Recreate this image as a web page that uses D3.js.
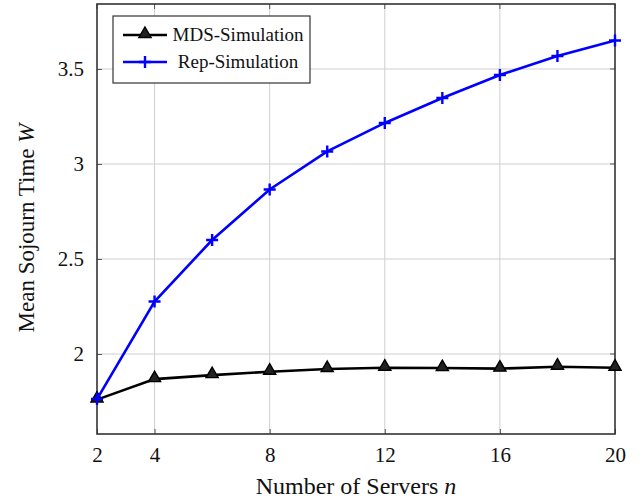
<!DOCTYPE html>
<html>
<head>
<meta charset="utf-8">
<script src="https://cdn.jsdelivr.net/npm/d3@7"></script>
<style>
  body { margin: 0; background: #fff; }
</style>
</head>
<body>
<div id="chart"></div>
<script>
// Data
const servers = [2, 4, 6, 8, 10, 12, 14, 16, 18, 20];
const mdsSim = [1.760, 1.868, 1.889, 1.907, 1.921, 1.928, 1.926, 1.923, 1.933, 1.928];
const repSim = [1.763, 2.276, 2.600, 2.866, 3.066, 3.216, 3.347, 3.468, 3.568, 3.650];
const xTicks = [2, 4, 8, 12, 16, 20];
const yTicks = [2, 2.5, 3, 3.5];
const seriesNames = ["MDS-Simulation", "Rep-Simulation"];

const serif = "'Liberation Serif'";
const width = 644, height = 501;
const margin = { left: 97, right: 29, top: 4, bottom: 67 };

const x = d3.scaleLinear().domain([2, 20]).range([margin.left, width - margin.right]);
const y = d3.scaleLinear().domain([1.579, 3.842]).range([height - margin.bottom, margin.top]);

const svg = d3.select("#chart").append("svg")
    .attr("width", width)
    .attr("height", height);

// grid
svg.append("g")
    .attr("stroke", "#cfcfcf")
    .attr("stroke-width", 1)
    .selectAll("line")
    .data(xTicks.filter(d => d !== 2 && d !== 20))
    .join("line")
    .attr("x1", d => x(d)).attr("x2", d => x(d))
    .attr("y1", y.range()[0]).attr("y2", y.range()[1]);

svg.append("g")
    .attr("stroke", "#cfcfcf")
    .attr("stroke-width", 1)
    .selectAll("line")
    .data(yTicks)
    .join("line")
    .attr("x1", x.range()[0]).attr("x2", x.range()[1])
    .attr("y1", d => y(d)).attr("y2", d => y(d));

// axes (ticks pointing inward)
const xAxis = svg.append("g")
    .attr("transform", `translate(0,${y.range()[0]})`)
    .call(d3.axisBottom(x).tickValues(xTicks).tickSizeInner(-5).tickSizeOuter(0).tickPadding(12));
const yAxis = svg.append("g")
    .attr("transform", `translate(${x.range()[0]},0)`)
    .call(d3.axisLeft(y).tickValues(yTicks).tickSizeInner(-5).tickSizeOuter(0).tickPadding(13)
        .tickFormat(d => d3.format("")(d)));

[xAxis, yAxis].forEach(g => {
    g.select(".domain").remove();
    g.selectAll(".tick line").attr("stroke", "#555").attr("stroke-width", 1);
    g.selectAll("text")
        .style("font-family", serif)
        .attr("font-size", 21)
        .attr("fill", "#111");
});
xAxis.selectAll("text").attr("dy", "0.75em");

// mirrored ticks on top/right
svg.append("g").selectAll("line").data(xTicks).join("line")
    .attr("x1", d => x(d)).attr("x2", d => x(d))
    .attr("y1", y.range()[1]).attr("y2", y.range()[1] + 5)
    .attr("stroke", "#555");
svg.append("g").selectAll("line").data(yTicks).join("line")
    .attr("x1", x.range()[1]).attr("x2", x.range()[1] - 5)
    .attr("y1", d => y(d)).attr("y2", d => y(d))
    .attr("stroke", "#555");

// frame
svg.append("rect")
    .attr("x", x.range()[0]).attr("y", y.range()[1])
    .attr("width", x.range()[1] - x.range()[0])
    .attr("height", y.range()[0] - y.range()[1])
    .attr("fill", "none")
    .attr("stroke", "#333")
    .attr("stroke-width", 1.6);

// series
const line = d3.line().x(d => x(d[0])).y(d => y(d[1]));
const mdsPts = servers.map((s, i) => [s, mdsSim[i]]);
const repPts = servers.map((s, i) => [s, repSim[i]]);

const triangle = d3.symbol().type(d3.symbolTriangle).size(64);

function drawMds(g, pts) {
    g.append("path").datum(pts)
        .attr("d", line)
        .attr("fill", "none").attr("stroke", "#000").attr("stroke-width", 2.6);
    g.selectAll(".tri").data(pts).join("path")
        .attr("class", "tri")
        .attr("d", triangle)
        .attr("transform", d => `translate(${x(d[0])},${y(d[1]) - 1})`)
        .attr("fill", "#222").attr("stroke", "#000").attr("stroke-width", 1.4);
}

function drawRep(g, pts) {
    g.append("path").datum(pts)
        .attr("d", line)
        .attr("fill", "none").attr("stroke", "#0000ff").attr("stroke-width", 2.6);
    g.selectAll(".plus").data(pts).join("path")
        .attr("class", "plus")
        .attr("d", "M-6,0H6M0,-6V6")
        .attr("transform", d => `translate(${x(d[0])},${y(d[1])})`)
        .attr("stroke", "#0000ff").attr("stroke-width", 2.4);
}

drawMds(svg.append("g"), mdsPts);
drawRep(svg.append("g"), repPts);

// legend
const legend = svg.append("g").attr("transform", "translate(113,16)");
legend.append("rect")
    .attr("width", 197).attr("height", 67)
    .attr("fill", "#fff").attr("stroke", "#333").attr("stroke-width", 1.2);

const rows = [19, 46];
rows.forEach((ry, i) => {
    const gRow = legend.append("g");
    gRow.append("line")
        .attr("x1", 10).attr("x2", 54).attr("y1", ry).attr("y2", ry)
        .attr("stroke", i === 0 ? "#000" : "#0000ff").attr("stroke-width", 2.6);
    if (i === 0) {
        gRow.append("path").attr("d", triangle)
            .attr("transform", `translate(32,${ry - 1})`)
            .attr("fill", "#222").attr("stroke", "#000").attr("stroke-width", 1.4);
    } else {
        gRow.append("path").attr("d", "M-6,0H6M0,-6V6")
            .attr("transform", `translate(32,${ry})`)
            .attr("stroke", "#0000ff").attr("stroke-width", 2.4);
    }
    gRow.append("text")
        .attr("x", 125).attr("y", ry)
        .attr("dy", "0.33em")
        .attr("text-anchor", "middle")
        .style("font-family", serif)
        .attr("font-size", 19)
        .attr("fill", "#111")
        .text(seriesNames[i]);
});

// axis titles
const xt = svg.append("text")
    .attr("x", (x.range()[0] + x.range()[1]) / 2)
    .attr("y", 494)
    .attr("text-anchor", "middle")
    .style("font-family", serif)
    .attr("font-size", 24)
    .attr("fill", "#111");
xt.append("tspan").text("Number of Servers ");
xt.append("tspan").attr("font-style", "italic").text("n");

const yt = svg.append("text")
    .attr("transform", "translate(34,228) rotate(-90)")
    .attr("text-anchor", "middle")
    .style("font-family", serif)
    .attr("font-size", 23)
    .attr("fill", "#111");
yt.append("tspan").text("Mean Sojourn Time ");
yt.append("tspan").attr("font-style", "italic").text("W");
</script>
</body>
</html>
